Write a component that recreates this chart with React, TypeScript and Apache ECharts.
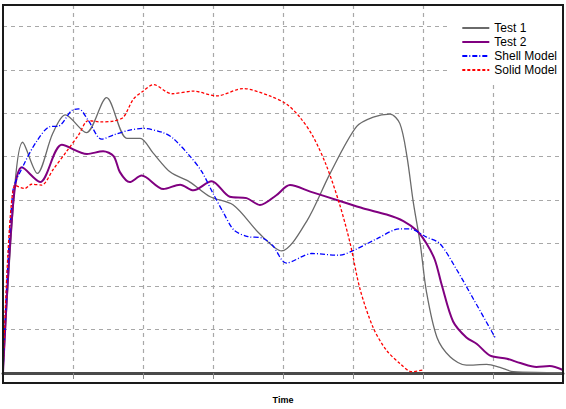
import React, { useEffect, useRef } from "react";
import * as echarts from "echarts";

const seriesNames = ["Test 1", "Test 2", "Shell Model", "Solid Model"];
const xAxisTitle = "Time";

const test1: [number, number][] = [
  [0, 0], [0.17, 4.34], [0.28, 5.33], [0.49, 4.61], [0.71, 5.53], [0.89, 5.96],
  [1.19, 5.55], [1.48, 6.36], [1.77, 5.42], [1.96, 5.42], [2.14, 5.09], [2.39, 4.64],
  [2.67, 4.41], [2.96, 4.07], [3.29, 3.88], [3.67, 3.21], [3.98, 2.82], [4.34, 3.51],
  [4.67, 4.6], [5.05, 5.69], [5.29, 5.91], [5.53, 5.98], [5.67, 5.76], [5.77, 5.01],
  [5.86, 3.96], [5.96, 2.99], [6.05, 1.87], [6.2, 0.82], [6.39, 0.37], [6.62, 0.18],
  [6.91, 0.2], [7.1, 0.13], [7.29, 0.03], [7.77, 0.01], [8, 0],
];

const test2: [number, number][] = [
  [0, 0], [0.15, 4.0], [0.27, 4.75], [0.53, 4.41], [0.84, 5.27], [1.2, 5.06],
  [1.43, 5.12], [1.58, 5.01], [1.67, 4.64], [1.81, 4.41], [1.98, 4.56], [2.29, 4.25],
  [2.53, 4.35], [2.72, 4.22], [2.98, 4.43], [3.24, 4.07], [3.48, 4.04], [3.67, 3.88],
  [3.9, 4.1], [4.1, 4.34], [4.39, 4.19], [4.8, 3.98], [5.15, 3.8], [5.48, 3.66],
  [5.72, 3.51], [5.91, 3.29], [6.05, 2.99], [6.17, 2.61], [6.27, 2.02], [6.43, 1.19],
  [6.62, 0.82], [6.77, 0.67], [6.96, 0.4], [7.2, 0.33], [7.39, 0.23], [7.62, 0.14],
  [7.81, 0.16], [8, 0.07],
];

const shellModel: [number, number][] = [
  [0, 0], [0.14, 4.19], [0.29, 4.79], [0.48, 5.35], [0.67, 5.69], [0.79, 5.7],
  [0.98, 6.06], [1.08, 6.1], [1.22, 5.83], [1.41, 5.4], [1.58, 5.5], [1.81, 5.61],
  [2.0, 5.65], [2.29, 5.55], [2.43, 5.42], [2.67, 5.01], [2.84, 4.65], [3.0, 4.15],
  [3.15, 3.7], [3.3, 3.3], [3.5, 3.15], [3.7, 3.12], [3.85, 2.95], [4.05, 2.54],
  [4.41, 2.76], [4.8, 2.72], [5.02, 2.84], [5.34, 3.1], [5.67, 3.33], [5.81, 3.33],
  [6.05, 3.14], [6.24, 2.99], [6.48, 2.39], [6.72, 1.71], [7.03, 0.82],
];

const solidModel: [number, number][] = [
  [0, 0], [0.17, 4.34], [0.31, 4.26], [0.41, 4.36], [0.55, 4.34], [0.72, 4.71],
  [0.91, 5.12], [1.08, 5.5], [1.22, 5.83], [1.39, 5.8], [1.58, 5.82], [1.72, 5.91],
  [1.86, 6.32], [2.0, 6.51], [2.15, 6.66], [2.41, 6.45], [2.72, 6.51], [3.05, 6.4],
  [3.43, 6.57], [3.81, 6.4], [4.05, 6.21], [4.24, 5.91], [4.43, 5.46], [4.62, 4.79],
  [4.81, 3.89], [4.96, 2.99], [5.1, 1.94], [5.29, 1.04], [5.48, 0.52], [5.67, 0.22],
  [5.84, 0.03], [6.0, 0.07],
];

export default function App() {
  const ref = useRef<HTMLDivElement>(null);
  useEffect(() => {
    if (!ref.current) return;
    const chart = echarts.init(ref.current, undefined, { renderer: "svg" });
    const gridLine = {
      show: true, showMinLine: false, showMaxLine: false,
      lineStyle: { color: "#a8a8a8", width: 1.2, type: [4, 4] as any },
    };
    chart.setOption({
      animation: false,
      backgroundColor: "#ffffff",
      textStyle: { fontFamily: "Liberation Sans, Arial, sans-serif" },
      grid: {
        left: 3, right: 3, top: 5, bottom: 26,
        show: true, borderColor: "#1a1a1a", borderWidth: 2, backgroundColor: "transparent",
      },
      graphic: [
        {
          type: "rect",
          left: 2,
          top: 4,
          z: 100,
          silent: true,
          shape: { width: 560, height: 378 },
          style: { fill: "transparent", stroke: "#1a1a1a", lineWidth: 2 },
        },
      ],
      legend: {
        orient: "vertical",
        right: 4,
        top: 5,
        z: 50,
        padding: [17, 5, 6, 11],
        backgroundColor: "#ffffff",
        itemWidth: 27,
        itemHeight: 12,
        itemGap: 2,
        itemStyle: { opacity: 0 },
        data: seriesNames,
        textStyle: { fontSize: 12, color: "#000", fontFamily: "Liberation Sans, Arial, sans-serif" },
      },
      xAxis: {
        type: "value",
        min: 0, max: 8, interval: 1,
        name: xAxisTitle,
        nameLocation: "middle",
        nameGap: 22,
        nameTextStyle: { fontSize: 9, fontWeight: "bold", color: "#000" },
        axisLabel: { show: false },
        axisLine: { show: true, onZero: false, lineStyle: { color: "#4a4a4a", width: 3 } },
        axisTick: { show: true, length: 6, lineStyle: { color: "#888", width: 1 } },
        splitLine: gridLine,
      },
      yAxis: {
        type: "value",
        min: 0, max: 8.5, interval: 1,
        axisLabel: { show: false },
        axisLine: { show: false },
        axisTick: { show: false },
        splitLine: gridLine,
      },
      series: [
        {
          name: seriesNames[0], type: "line", data: test1, symbol: "none", smooth: 0.3,
          lineStyle: { color: "#6a6a6a", width: 1.3 }, itemStyle: { color: "#6a6a6a" },
        },
        {
          name: seriesNames[1], type: "line", data: test2, symbol: "none", smooth: 0.3,
          lineStyle: { color: "#800080", width: 2 }, itemStyle: { color: "#800080" },
        },
        {
          name: seriesNames[2], type: "line", data: shellModel, symbol: "none", smooth: 0.3,
          lineStyle: { color: "#0000ff", width: 1.3, type: [5, 2, 1, 2] }, itemStyle: { color: "#0000ff" },
        },
        {
          name: seriesNames[3], type: "line", data: solidModel, symbol: "none", smooth: 0.3,
          lineStyle: { color: "#ff0000", width: 1.3, type: [3, 2] }, itemStyle: { color: "#ff0000" },
        },
      ],
    });
    return () => chart.dispose();
  }, []);
  return (
    <div
      ref={ref}
      style={{ position: "fixed", left: 0, top: 0, width: 566, height: 409, background: "#fff" }}
    />
  );
}
